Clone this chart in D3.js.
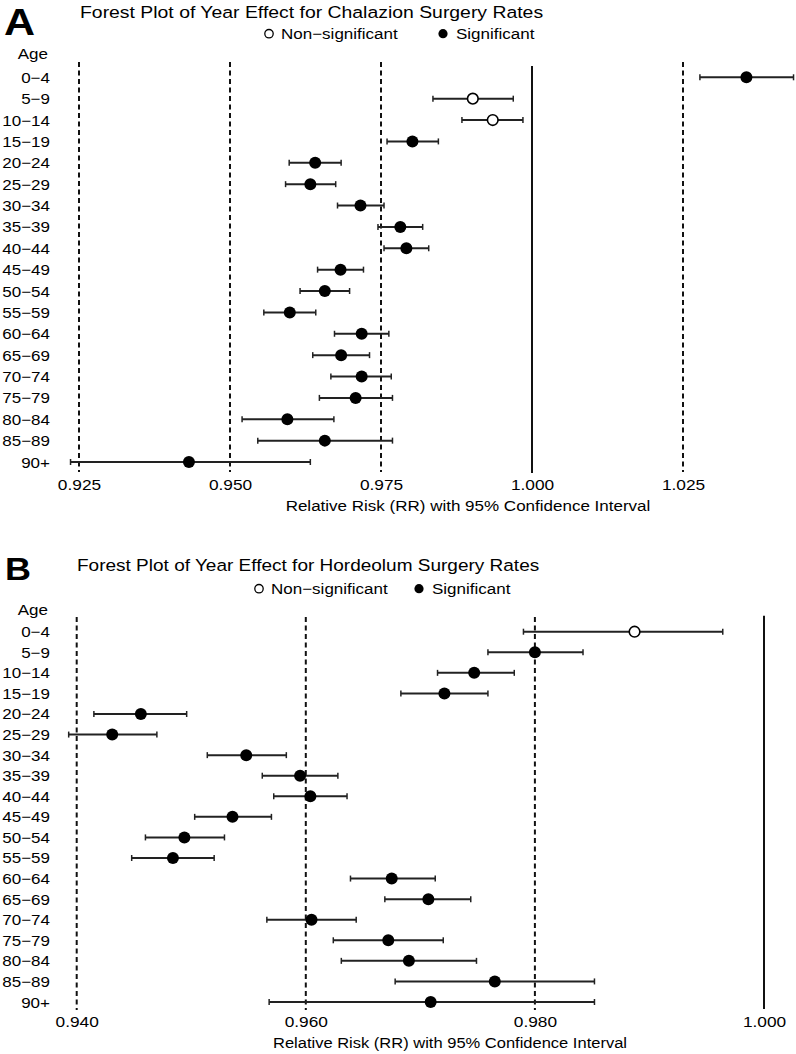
<!DOCTYPE html>
<html>
<head>
<meta charset="utf-8">
<script src="https://cdn.jsdelivr.net/npm/d3@7"></script>
<style>
  body { margin: 0; background: #fff; }
  svg { display: block; font-family: "Liberation Sans", Arial, sans-serif; }
</style>
</head>
<body>
<svg id="chart" width="796" height="1054"></svg>
<script>
/*global d3*/
const ages = ["0\u22124", "5\u22129", "10\u221214", "15\u221219", "20\u221224", "25\u221229", "30\u221234", "35\u221239", "40\u221244", "45\u221249", "50\u221254", "55\u221259", "60\u221264", "65\u221269", "70\u221274", "75\u221279", "80\u221284", "85\u221289", "90+"]

// panel A - chalazion
const chalRR = [1.0355, 0.9902, 0.9935, 0.9802, 0.9641, 0.9633, 0.9716, 0.9782, 0.9792, 0.9683, 0.9657, 0.9599, 0.9718, 0.9684, 0.9718, 0.9708, 0.9595, 0.9657, 0.9432]
const chalLo = [1.0278, 0.9836, 0.9884, 0.9760, 0.9598, 0.9592, 0.9678, 0.9745, 0.9755, 0.9645, 0.9616, 0.9556, 0.9673, 0.9637, 0.9667, 0.9648, 0.9520, 0.9546, 0.9236]
const chalHi = [1.0433, 0.9969, 0.9985, 0.9845, 0.9684, 0.9675, 0.9755, 0.9819, 0.9829, 0.9721, 0.9698, 0.9642, 0.9763, 0.9731, 0.9767, 0.9769, 0.9672, 0.9769, 0.9633]
const chalSig = [true, false, false, true, true, true, true, true, true, true, true, true, true, true, true, true, true, true, true]
const chalTicks = [0.925, 0.950, 0.975, 1.000, 1.025]

// panel B - hordeolum
const hordRR = [0.9887, 0.9800, 0.9747, 0.9721, 0.9456, 0.9431, 0.9548, 0.9595, 0.9604, 0.9536, 0.9494, 0.9484, 0.9675, 0.9707, 0.9605, 0.9672, 0.9690, 0.9765, 0.9709]
const hordLo = [0.9790, 0.9759, 0.9715, 0.9683, 0.9415, 0.9393, 0.9514, 0.9562, 0.9572, 0.9503, 0.9460, 0.9448, 0.9639, 0.9669, 0.9566, 0.9624, 0.9631, 0.9678, 0.9568]
const hordHi = [0.9964, 0.9842, 0.9782, 0.9759, 0.9496, 0.9470, 0.9583, 0.9628, 0.9636, 0.9570, 0.9529, 0.9520, 0.9713, 0.9744, 0.9644, 0.9720, 0.9749, 0.9852, 0.9852]
const hordSig = [false, true, true, true, true, true, true, true, true, true, true, true, true, true, true, true, true, true, true]
const hordTicks = [0.940, 0.960, 0.980, 1.000]

const svg = d3.select("#chart")

// text in the reference is a bit flatter than Arial: keep the width, shrink the height
function squash(sel, k) {
  sel.each(function () {
    const t = d3.select(this)
    const w = this.getComputedTextLength()
    t.attr("font-size", parseFloat(t.attr("font-size")) * k)
      .attr("textLength", w)
      .attr("lengthAdjust", "spacingAndGlyphs")
  })
}

function drawPanel(p) {
  const g = svg.append("g")
  const rows = ages.map((a, i) => ({ age: a, rr: p.rr[i], lo: p.lo[i], hi: p.hi[i], sig: p.sig[i] }))

  const x = d3.scaleLinear().domain([p.ticks[0], p.ticks[p.ticks.length - 1]]).range(p.xRange)
  const y = d3.scalePoint().domain(ages).range(p.yRange)

  // letter + title
  g.append("text").attr("class", "txt").attr("x", p.letterX).attr("y", p.letterY)
    .attr("font-size", p.letterSize).attr("font-weight", "bold").text(p.letter)
  g.append("text").attr("class", "txt").attr("x", p.titleX).attr("y", p.titleY)
    .attr("font-size", p.titleSize).text(p.title)

  // legend
  const leg = g.append("g")
  leg.append("circle").attr("cx", p.legX[0]).attr("cy", p.legY - 4.8).attr("r", 4.2)
    .attr("fill", "#fff").attr("stroke", "#000").attr("stroke-width", 1.3)
  leg.append("text").attr("class", "txt").attr("font-size", 17)
    .attr("x", p.legX[0] + 12).attr("y", p.legY).text("Non\u2212significant")
  leg.append("circle").attr("cx", p.legX[1]).attr("cy", p.legY - 4.8).attr("r", 4.6).attr("fill", "#000")
  leg.append("text").attr("class", "txt").attr("font-size", 17)
    .attr("x", p.legX[1] + 13).attr("y", p.legY).text("Significant")

  // reference lines
  g.selectAll("line.ref")
    .data(p.ticks)
    .join("line")
    .attr("class", "ref")
    .attr("x1", d => x(d)).attr("x2", d => x(d))
    .attr("y1", d => d === 1 ? p.solidY[0] : p.dashY[0])
    .attr("y2", d => d === 1 ? p.solidY[1] : p.dashY[1])
    .attr("stroke", "#111")
    .attr("stroke-width", 2)
    .attr("stroke-dasharray", d => d === 1 ? null : "5,3.5")

  // x axis labels, no line
  const axis = g.append("g")
    .attr("transform", `translate(0,${p.axisY})`)
    .call(d3.axisBottom(x).tickValues(p.ticks).tickFormat(d3.format(".3f")).tickSize(0).tickPadding(0))
  axis.select(".domain").remove()
  axis.selectAll("text").attr("class", "txt").attr("font-size", 17.3).attr("fill", "#000")
    .attr("dy", "0.71em")

  g.append("text").attr("class", "txt").attr("x", p.axisTitleX).attr("y", p.axisTitleY)
    .attr("text-anchor", "middle").attr("font-size", p.axisTitleSize)
    .text("Relative Risk (RR) with 95% Confidence Interval")

  // y labels
  g.append("text").attr("class", "txt").attr("x", 48).attr("y", p.yRange[0] - p.ageGap + 5.5)
    .attr("text-anchor", "end").attr("font-size", 17).text("Age")
  g.selectAll("text.age")
    .data(ages)
    .join("text")
    .attr("class", "age txt")
    .attr("x", 50)
    .attr("y", d => y(d) + 5.5)
    .attr("text-anchor", "end")
    .attr("font-size", 17)
    .text(d => d)

  // error bars
  const eb = g.selectAll("g.eb").data(rows).join("g").attr("class", "eb")
  eb.append("line")
    .attr("x1", d => x(d.lo)).attr("x2", d => x(d.hi))
    .attr("y1", d => y(d.age)).attr("y2", d => y(d.age))
    .attr("stroke", "#222").attr("stroke-width", 2)
  eb.append("line")
    .attr("x1", d => x(d.lo)).attr("x2", d => x(d.lo))
    .attr("y1", d => y(d.age) - 3).attr("y2", d => y(d.age) + 3)
    .attr("stroke", "#222").attr("stroke-width", 1.5)
  eb.append("line")
    .attr("x1", d => x(d.hi)).attr("x2", d => x(d.hi))
    .attr("y1", d => y(d.age) - 3).attr("y2", d => y(d.age) + 3)
    .attr("stroke", "#222").attr("stroke-width", 1.5)
  eb.append("circle")
    .attr("cx", d => x(d.rr)).attr("cy", d => y(d.age))
    .attr("r", d => d.sig ? 6 : 5.3)
    .attr("fill", d => d.sig ? "#000" : "#fff")
    .attr("stroke", "#000")
    .attr("stroke-width", d => d.sig ? 0 : 1.6)
}

drawPanel({
  rr: chalRR, lo: chalLo, hi: chalHi, sig: chalSig, ticks: chalTicks,
  xRange: [79, 683], yRange: [77.3, 462],
  letter: "A", letterX: 4, letterY: 34.5, letterSize: 43,
  title: "Forest Plot of Year Effect for Chalazion Surgery Rates", titleX: 80, titleY: 17.5, titleSize: 19.4,
  legY: 38.5, legX: [269, 443],
  dashY: [62, 472], solidY: [66, 473],
  axisY: 479.5, axisTitleX: 468, axisTitleY: 511, axisTitleSize: 17,
  ageGap: 24
})

drawPanel({
  rr: hordRR, lo: hordLo, hi: hordHi, sig: hordSig, ticks: hordTicks,
  xRange: [76.7, 764], yRange: [631.7, 1002],
  letter: "B", letterX: 5, letterY: 579.5, letterSize: 36,
  title: "Forest Plot of Year Effect for Hordeolum Surgery Rates", titleX: 77, titleY: 570.5, titleSize: 19,
  legY: 593.5, legX: [259, 419],
  dashY: [617, 1010], solidY: [615.7, 1009],
  axisY: 1016, axisTitleX: 450, axisTitleY: 1047.5, axisTitleSize: 16.5,
  ageGap: 22.5
})

svg.selectAll("text.txt").attr("fill", "#000").call(squash, 0.87)
</script>
</body>
</html>
